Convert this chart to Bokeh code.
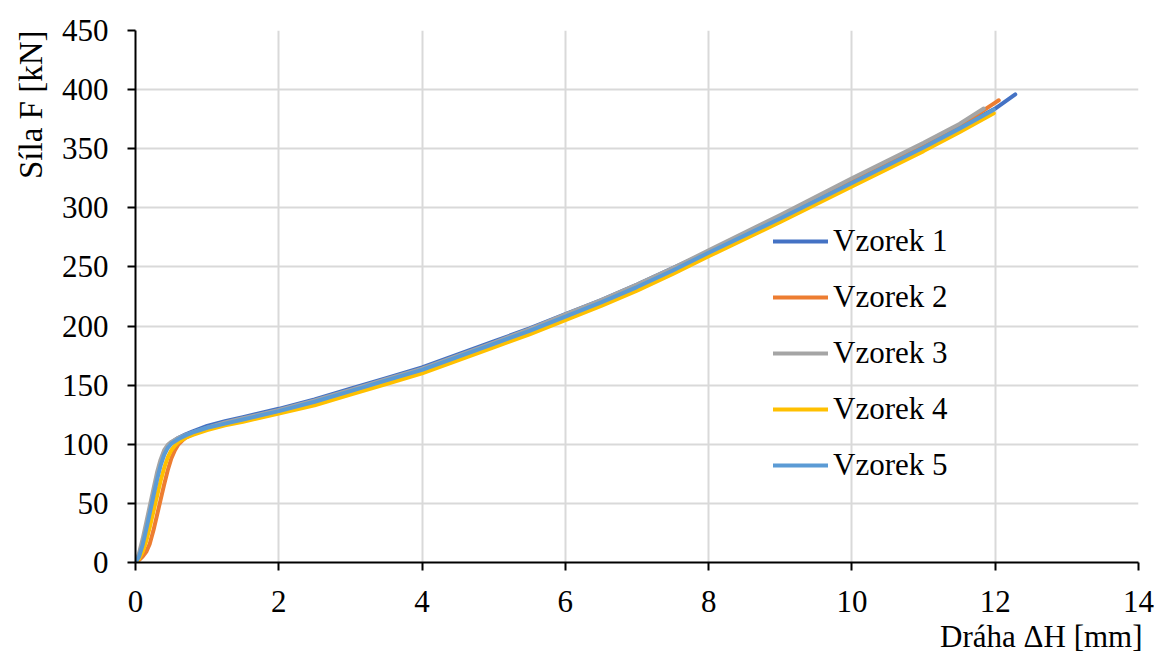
from bokeh.plotting import figure
from bokeh.models import Legend, LegendItem, Title, FixedTicker
from bokeh.embed import file_html
from bokeh.resources import INLINE

# ---- data ----
series_names = ["Vzorek 1", "Vzorek 2", "Vzorek 3", "Vzorek 4", "Vzorek 5"]
colors = ["#4472C4", "#ED7D31", "#A5A5A5", "#FFC000", "#5B9BD5"]

mid_x = [1.25, 1.5, 2.0, 2.5, 3.0, 3.5, 4.0, 4.5, 5.0, 5.5, 6.0, 6.5, 7.0, 7.5, 8.0, 9.0, 10.0, 11.0, 11.5]

x1 = [0, 0.05, 0.1, 0.15, 0.2, 0.25, 0.3, 0.35, 0.4, 0.45, 0.5, 0.6, 0.7, 0.8, 1.0] + mid_x + [12.0, 12.28]
y1 = [0, 6, 17, 30, 44, 58, 72, 84, 92, 98, 101.5, 105.5, 108.5, 111, 115.5,
      119.5, 123, 130, 138, 147, 156, 165, 176, 187, 198, 210, 222, 235, 249, 263, 292, 322, 352, 368,
      384, 396]

x2 = [0, 0.05, 0.1, 0.15, 0.2, 0.25, 0.3, 0.35, 0.4, 0.45, 0.5, 0.55, 0.6, 0.65, 0.7, 0.8, 1.0] + mid_x + [12.0, 12.05]
y2 = [0, 2, 5, 9, 16, 27, 40, 53, 66, 78, 88, 95, 100, 103, 105.5, 108.5, 113,
      117.5, 121, 128, 136, 145, 154, 163, 174, 185, 196.5, 209, 221, 234, 248, 262, 292, 322, 353, 369,
      389, 391]

x3 = [0, 0.05, 0.1, 0.15, 0.2, 0.25, 0.3, 0.35, 0.4, 0.45, 0.5, 0.6, 0.7, 0.8, 1.0] + mid_x + [11.84]
y3 = [0, 8, 20, 34, 48, 62, 76, 87, 95, 99.5, 102, 105.5, 108, 110, 114,
      118.5, 122, 129, 137, 146, 155, 164, 175, 186, 197.5, 210, 222, 235, 249, 264, 294, 325, 355, 371,
      384]

x4 = [0, 0.05, 0.1, 0.15, 0.2, 0.25, 0.3, 0.35, 0.4, 0.45, 0.5, 0.55, 0.6, 0.7, 0.8, 1.0] + mid_x + [11.98]
y4 = [0, 3, 9, 18, 30, 43, 56, 69, 80, 89, 95, 99, 102, 105.5, 108, 112,
      116, 119, 126, 133, 142, 151, 160, 171, 182, 193, 205, 217, 230, 244, 259, 288, 318, 348, 364,
      380]

x5 = [0, 0.05, 0.1, 0.15, 0.2, 0.25, 0.3, 0.35, 0.4, 0.45, 0.5, 0.6, 0.7, 0.8, 1.0] + mid_x + [11.98]
y5 = [0, 5, 15, 28, 42, 56, 70, 82, 91, 97, 100.5, 104.5, 107.5, 110, 114,
      117.5, 121, 128, 136, 145, 154, 163, 174, 185, 196, 208, 220, 233, 247, 262, 291, 321, 351, 367,
      383]

xs = [x1, x2, x3, x4, x5]
ys = [y1, y2, y3, y4, y5]

x_ticks = [0, 2, 4, 6, 8, 10, 12, 14]
y_ticks = [0, 50, 100, 150, 200, 250, 300, 350, 400, 450]
x_title = "Dráha ΔH [mm]"
y_title = "Síla F [kN]"

FONT = "Liberation Serif"

p = figure(width=1158, height=655, x_range=(0, 14), y_range=(0, 450),
           output_backend="svg", toolbar_location=None,
           min_border_left=135, min_border_right=20, min_border_top=30,
           min_border_bottom=92)
p.outline_line_color = None
p.background_fill_color = "white"

for ax, ticks in ((p.xaxis[0], x_ticks), (p.yaxis[0], y_ticks)):
    ax.ticker = FixedTicker(ticks=ticks)
    ax.axis_line_color = "black"
    ax.axis_line_width = 2
    ax.major_tick_line_color = "black"
    ax.major_tick_line_width = 2
    ax.major_tick_out = 8
    ax.major_tick_in = 0
    ax.minor_tick_line_color = None
    ax.major_label_text_font = FONT
    ax.major_label_text_font_size = "31px"
    ax.major_label_text_color = "black"

p.xaxis.major_label_standoff = 20
p.yaxis.major_label_standoff = 19

for g in (p.xgrid[0], p.ygrid[0]):
    g.grid_line_color = "#D9D9D9"
    g.grid_line_width = 2
p.xgrid.ticker = FixedTicker(ticks=x_ticks)
p.ygrid.ticker = FixedTicker(ticks=y_ticks)

renderers = []
for x, y, c in zip(xs, ys, colors):
    r = p.line(x, y, line_color=c, line_width=4, line_join="round", line_cap="round")
    renderers.append(r)

legend = Legend(items=[LegendItem(label=n, renderers=[r]) for n, r in zip(series_names, renderers)],
                location=(638, 79), orientation="vertical")
legend.label_text_font = FONT
legend.label_text_font_size = "31px"
legend.label_text_color = "black"
legend.glyph_width = 55
legend.glyph_height = 36
legend.label_height = 36
legend.label_standoff = 5
legend.spacing = 20
legend.padding = 0
legend.margin = 0
legend.border_line_color = None
legend.background_fill_alpha = 0
p.add_layout(legend, "center")

xt = Title(text=x_title, align="right", text_font=FONT,
           text_font_size="31px", text_font_style="normal", text_color="black",
           standoff=4, offset=-4)
p.add_layout(xt, "below")
yt = Title(text=y_title, align="right", text_font=FONT,
           text_font_size="33px", text_font_style="normal", text_color="black",
           standoff=20)
p.add_layout(yt, "left")

open("out.html", "w").write(file_html(p, INLINE))
